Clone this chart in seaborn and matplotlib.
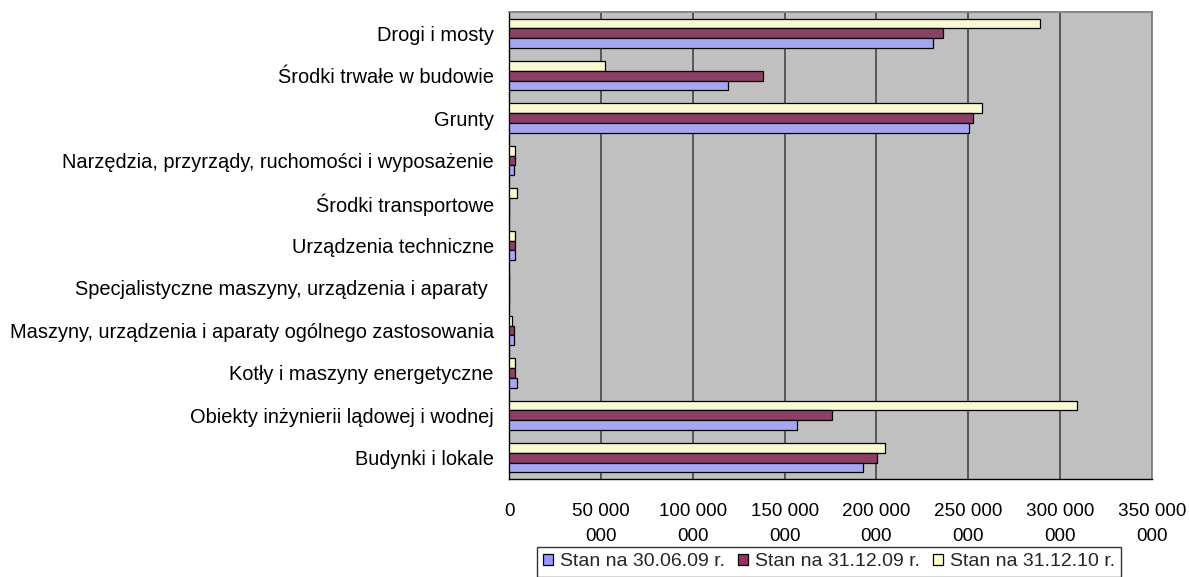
import matplotlib
matplotlib.use("Agg")
import matplotlib.pyplot as plt
import seaborn as sns
import pandas as pd
from matplotlib.patches import Patch
from matplotlib.ticker import FixedLocator

categories = [
    "Drogi i mosty",
    "Środki trwałe w budowie",
    "Grunty",
    "Narzędzia, przyrządy, ruchomości i wyposażenie",
    "Środki transportowe",
    "Urządzenia techniczne",
    "Specjalistyczne maszyny, urządzenia i aparaty ",
    "Maszyny, urządzenia i aparaty ogólnego zastosowania",
    "Kotły i maszyny energetyczne",
    "Obiekty inżynierii lądowej i wodnej",
    "Budynki i lokale",
]
series_names = ["Stan na 30.06.09 r.", "Stan na 31.12.09 r.", "Stan na 31.12.10 r."]
stan_300609 = [231e6, 119e6, 250.5e6, 2.7e6, 0, 3.4e6, 0, 2.7e6, 4.4e6, 156.5e6, 192.5e6]
stan_311209 = [236e6, 138e6, 252.7e6, 3.3e6, 0, 3.4e6, 0, 2.7e6, 3.1e6, 175.7e6, 200.4e6]
stan_311210 = [289e6, 52e6, 257.5e6, 3.3e6, 4.4e6, 3.4e6, 0, 1.8e6, 3.3e6, 309e6, 204.6e6]
x_ticks = [0, 50e6, 100e6, 150e6, 200e6, 250e6, 300e6, 350e6]
x_tick_labels = ["0", "50 000\n000", "100 000\n000", "150 000\n000", "200 000\n000",
                 "250 000\n000", "300 000\n000", "350 000\n000"]
colors = {"Stan na 30.06.09 r.": "#9999FF",
          "Stan na 31.12.09 r.": "#993366",
          "Stan na 31.12.10 r.": "#FFFFCC"}

rows = []
for name, vals in zip(series_names, [stan_300609, stan_311209, stan_311210]):
    for c, v in zip(categories, vals):
        rows.append({"kategoria": c, "seria": name, "wartosc": v})
df = pd.DataFrame(rows)

sns.set_theme(style="white")
plt.rcParams["font.family"] = ["Liberation Sans", "DejaVu Sans"]

fig = plt.figure(figsize=(11.89, 5.77), dpi=100)
ax = fig.add_axes([509 / 1189, 1 - 479 / 577, (1152 - 509) / 1189, (479 - 12) / 577])
ax.set_facecolor("#C0C0C0")

hue_order = series_names[::-1]
sns.barplot(data=df, y="kategoria", x="wartosc", hue="seria", order=categories,
            hue_order=hue_order, palette=colors, orient="h", width=0.69,
            edgecolor="black", linewidth=0.9, ax=ax, legend=False, zorder=3)

ax.set_xlim(0, 350e6)
ax.set_ylim(10.5, -0.5)
ax.set_xticks(x_ticks)
ax.set_xticklabels(x_tick_labels, fontsize=13.6, linespacing=1.66, color="black")
ax.set_xlabel("")
ax.set_ylabel("")
ax.tick_params(axis="x", direction="out", length=6, width=1, color="black", pad=11)
ax.tick_params(axis="y", which="major", length=0, pad=11, labelsize=14.4, labelcolor="black")
ax.yaxis.set_minor_locator(FixedLocator([k + 0.5 for k in range(-1, 11)]))
ax.tick_params(axis="y", which="minor", direction="out", length=6, width=1, color="black")
ax.xaxis.grid(True, color="#505050", linewidth=1.3, zorder=1)
ax.set_axisbelow(True)
for s in ["top", "right"]:
    ax.spines[s].set_color("#808080")
    ax.spines[s].set_linewidth(1.3)
for s in ["left", "bottom"]:
    ax.spines[s].set_color("black")
    ax.spines[s].set_linewidth(1.0)

handles = [Patch(facecolor=colors[n], edgecolor="black", linewidth=0.9) for n in series_names]
leg = fig.legend(handles, series_names, loc="center", ncol=3,
                 bbox_to_anchor=(829 / 1189, 1 - 562 / 577), fontsize=14,
                 frameon=True, fancybox=False, handlelength=0.52, handleheight=0.52,
                 handletextpad=0.32, columnspacing=0.7, borderpad=0.33,
                 borderaxespad=0)
leg.get_frame().set_edgecolor("black")
leg.get_frame().set_linewidth(1.0)

fig.savefig("out.png", dpi=100)
